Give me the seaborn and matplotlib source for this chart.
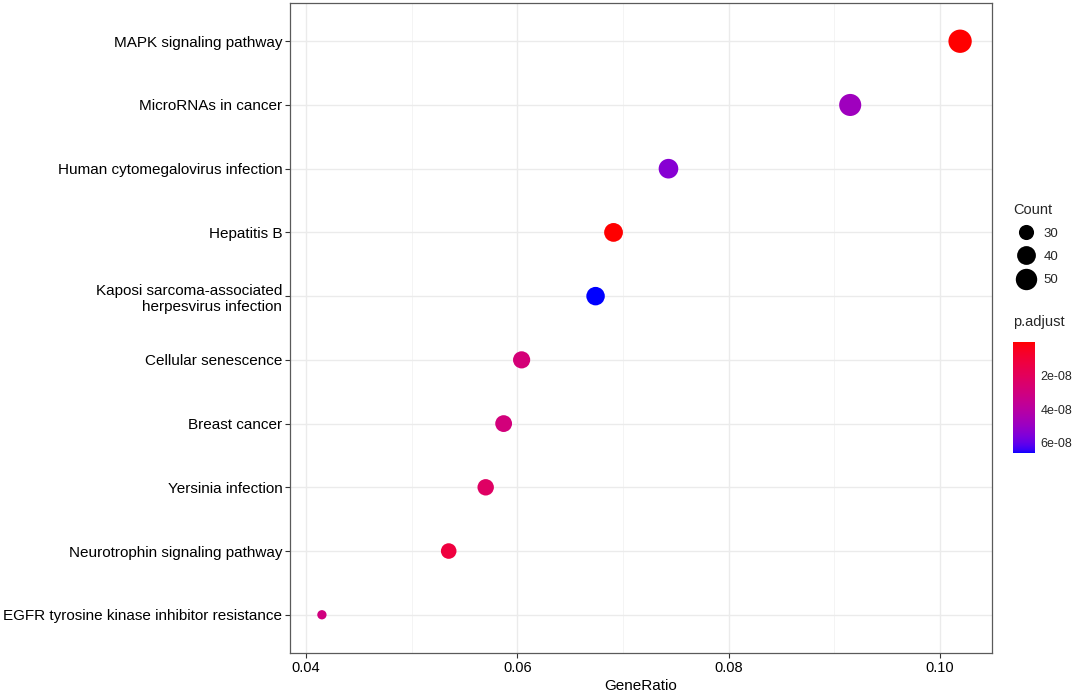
import numpy as np
import pandas as pd
import matplotlib
matplotlib.use("Agg")
import matplotlib.pyplot as plt
import seaborn as sns
from matplotlib.colors import ListedColormap, Normalize
from matplotlib.cm import ScalarMappable
from matplotlib.lines import Line2D

# ---- data ----
descriptions = [
    "MAPK signaling pathway",
    "MicroRNAs in cancer",
    "Human cytomegalovirus infection",
    "Hepatitis B",
    "Kaposi sarcoma-associated\nherpesvirus infection",
    "Cellular senescence",
    "Breast cancer",
    "Yersinia infection",
    "Neurotrophin signaling pathway",
    "EGFR tyrosine kinase inhibitor resistance",
]
gene_ratio = [0.1019, 0.0915, 0.0743, 0.0691, 0.0674, 0.0604, 0.0587, 0.0570, 0.0535, 0.0415]
counts = [59, 53, 43, 40, 39, 35, 34, 33, 31, 24]
p_adjust = [5e-11, 4.8e-08, 5.4e-08, 2e-10, 6.6e-08, 2.8e-08, 2.9e-08, 2.2e-08, 1.2e-08, 3.0e-08]
size_legend_values = [30, 40, 50]
cbar_ticks = [2e-08, 4e-08, 6e-08]
cbar_ticklabels = ["2e-08", "4e-08", "6e-08"]

df = pd.DataFrame({"Description": descriptions, "GeneRatio": gene_ratio,
                   "Count": counts, "p.adjust": p_adjust})

# ---- colour ramp red -> blue interpolated in CIELAB (like ggplot2) ----
def _srgb_to_lab(rgb):
    rgb = np.asarray(rgb, float)
    lin = np.where(rgb <= 0.04045, rgb / 12.92, ((rgb + 0.055) / 1.055) ** 2.4)
    M = np.array([[0.4124564, 0.3575761, 0.1804375],
                  [0.2126729, 0.7151522, 0.0721750],
                  [0.0193339, 0.1191920, 0.9503041]])
    xyz = M @ lin
    wp = np.array([0.95047, 1.0, 1.08883])
    t = xyz / wp
    f = np.where(t > (6 / 29) ** 3, np.cbrt(t), t / (3 * (6 / 29) ** 2) + 4 / 29)
    return np.array([116 * f[1] - 16, 500 * (f[0] - f[1]), 200 * (f[1] - f[2])])

def _lab_to_srgb(lab):
    L, a, b = lab
    fy = (L + 16) / 116
    fx = fy + a / 500
    fz = fy - b / 200
    f = np.array([fx, fy, fz])
    t = np.where(f > 6 / 29, f ** 3, 3 * (6 / 29) ** 2 * (f - 4 / 29))
    xyz = t * np.array([0.95047, 1.0, 1.08883])
    Minv = np.array([[3.2404542, -1.5371385, -0.4985314],
                     [-0.9692660, 1.8760108, 0.0415560],
                     [0.0556434, -0.2040259, 1.0572252]])
    lin = np.clip(Minv @ xyz, 0, 1)
    srgb = np.where(lin <= 0.0031308, 12.92 * lin, 1.055 * lin ** (1 / 2.4) - 0.055)
    return np.clip(srgb, 0, 1)

lab_lo = _srgb_to_lab([1, 0, 0])
lab_hi = _srgb_to_lab([0, 0, 1])
cmap = ListedColormap([_lab_to_srgb(lab_lo * (1 - t) + lab_hi * t) for t in np.linspace(0, 1, 256)])
norm = Normalize(vmin=min(p_adjust), vmax=max(p_adjust))

# ---- size scale: radius ~ sqrt of rescaled count (ggplot2 area palette) ----
d_min_pt, d_max_pt = 6.7, 16.8
cmin, cmax = min(counts), max(counts)

def size_of(v):
    d = d_min_pt + (d_max_pt - d_min_pt) * np.sqrt((v - cmin) / (cmax - cmin))
    return d ** 2

size_map = {c: size_of(c) for c in counts}

# ---- figure ----
sns.set_theme(style="white")
plt.rcParams["font.family"] = ["Liberation Sans", "DejaVu Sans"]

W, H = 1072, 691
fig = plt.figure(figsize=(W / 100, H / 100), dpi=100)
ax = fig.add_axes([290 / W, 1 - 653 / H, (992 - 290) / W, (653 - 3) / H])

sns.scatterplot(data=df, x="GeneRatio", y="Description", hue="p.adjust", size="Count",
                palette=cmap, hue_norm=norm, sizes=size_map, legend=False,
                linewidth=0, ax=ax, zorder=3)

n = len(descriptions)
ax.set_ylim(n - 1 + 0.6, -0.6)
rng = max(gene_ratio) - min(gene_ratio)
ax.set_xlim(min(gene_ratio) - 0.05 * rng, max(gene_ratio) + 0.05 * rng)
ax.set_xticks([0.04, 0.06, 0.08, 0.10])
ax.set_xticklabels(["0.04", "0.06", "0.08", "0.10"])
ax.set_xticks([0.05, 0.07, 0.09], minor=True)
ax.grid(True, which="major", color="#EBEBEB", linewidth=1.0, zorder=0)
ax.grid(True, which="minor", axis="x", color="#F2F2F2", linewidth=0.6, zorder=0)
ax.set_axisbelow(True)
for s in ax.spines.values():
    s.set_color("#5a5a5a")
    s.set_linewidth(0.9)
ax.tick_params(axis="both", which="major", direction="out", length=3.5, width=0.8,
               color="#333333", left=True, bottom=True)
ax.tick_params(axis="x", which="minor", length=0)
ax.tick_params(axis="y", labelsize=11, labelcolor="black", pad=2)
ax.tick_params(axis="x", labelsize=10.5, labelcolor="black", pad=2)
ax.set_xlabel("GeneRatio", fontsize=11, color="black", labelpad=3)
ax.set_ylabel("")

# ---- size legend ----
handles = [Line2D([], [], linestyle="", marker="o", color="black",
                  markersize=np.sqrt(size_of(v)), markeredgewidth=0)
           for v in size_legend_values]
leg = fig.legend(handles, [str(v) for v in size_legend_values], title="Count",
                 loc="upper left", bbox_to_anchor=(1013 / W, 1 - 203 / H),
                 frameon=False, fontsize=9.5, title_fontsize=10.5,
                 labelspacing=0.82, handlelength=2.0, handletextpad=0.3,
                 borderpad=0, borderaxespad=0, alignment="left")

# ---- colour bar ----
cax = fig.add_axes([1013 / W, 1 - 453 / H, 22 / W, 111 / H])
cb = fig.colorbar(ScalarMappable(norm=norm, cmap=cmap), cax=cax)
cb.outline.set_visible(False)
cax.invert_yaxis()
cb.set_ticks(cbar_ticks)
cb.set_ticklabels(cbar_ticklabels)
cax.tick_params(axis="y", direction="in", color="white", length=4.5, width=0.8,
                left=True, right=True, labelsize=9, pad=4)
fig.text(1013 / W, 1 - 322 / H, "p.adjust", fontsize=10.5, va="center", ha="left")

fig.savefig("out.png", dpi=100)
